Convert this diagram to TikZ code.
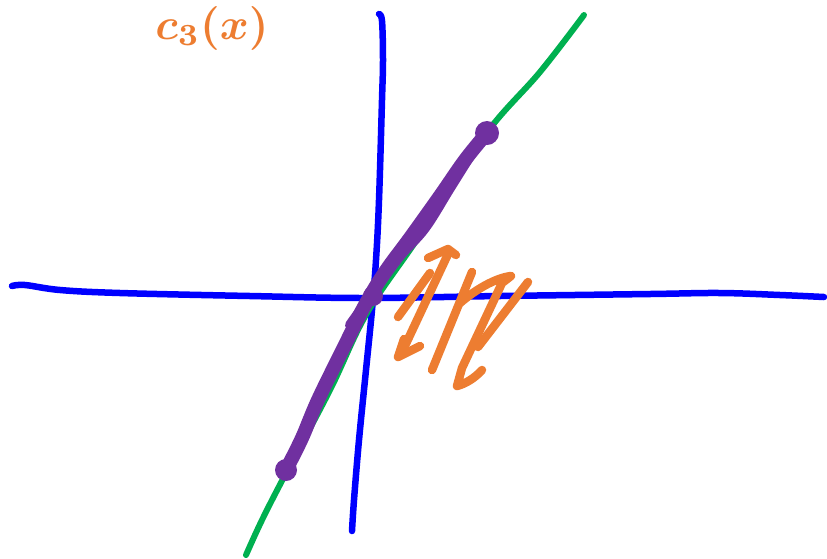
\documentclass[tikz,border=0pt]{standalone}
\usetikzlibrary{arrows.meta}
\definecolor{axblue}{RGB}{0,0,255}
\definecolor{crvgreen}{RGB}{0,176,80}
\definecolor{segpurple}{RGB}{112,48,160}
\definecolor{inkorange}{RGB}{237,125,49}
\tikzset{
  axis/.style={draw=axblue, line width=6.5pt, line cap=round, line join=round},
  curve/.style={draw=crvgreen, line width=6pt, line cap=round, line join=round},
  seg/.style={draw=segpurple, line width=14pt, line cap=round, line join=round},
  ink/.style={draw=inkorange, line width=8.5pt, line cap=round, line join=round},
  lbl/.style={text=inkorange, inner sep=0pt}
}
\begin{document}
\begin{tikzpicture}[x=1pt, y=-1pt]
\useasboundingbox[fill=white] (0,0) rectangle (827,558);
% axes
\draw[axis] plot[smooth, tension=0.6] coordinates {(12,286) (25,285) (60,290) (120,293) (250,296) (365,298) (500,296) (650,294) (720,293) (780,295) (824,297)};
\draw[axis] plot[smooth, tension=0.6] coordinates {(379,14) (382,21) (383,60) (382,100) (379,200) (376,260) (372,310) (366,370) (359,440) (354,500) (352,531)};
% green curve
\draw[curve] plot[smooth, tension=0.6] coordinates {(246,555) (262,520) (285,475) (330,390) (367,313) (420,235) (485,135) (540,72) (584,15)};
% purple chord
\draw[seg] plot[smooth, tension=0.6] coordinates {(287,468) (302,438) (318,400) (345,345) (365,305) (385,272) (410,238) (440,196) (465,160) (487,133)};
\draw[draw=segpurple, line width=10pt, line cap=round] plot[smooth, tension=0.6] coordinates {(350,325) (375,290) (400,256) (425,228) (450,188) (470,156)};
\fill[segpurple] (286,470) circle (11);
\fill[segpurple] (487,133) circle (12);
\fill[segpurple] (373,296) circle (10);
% orange scribbles
\draw[ink] (398,317) -- (430,273);
\draw[ink] (403,350) -- (449,252);
\draw[ink] (428,258) -- (448,249) -- (456,255);
\draw[ink] (404,339) -- (398,357) -- (420,346);
\draw[ink] (432,370) -- (472,272);
\draw[ink] (460,303) .. controls (475,290) and (495,278) .. (511,276) -- (502,283) -- (462,368) -- (457,386) .. controls (465,384) and (475,378) .. (482,370);
\draw[ink] (528,282) -- (478,347);
% label
\node[lbl] (c3) at (212,28) {\scalebox{4.4}{\boldmath$c_3(x)$}};
\end{tikzpicture}
\end{document}
